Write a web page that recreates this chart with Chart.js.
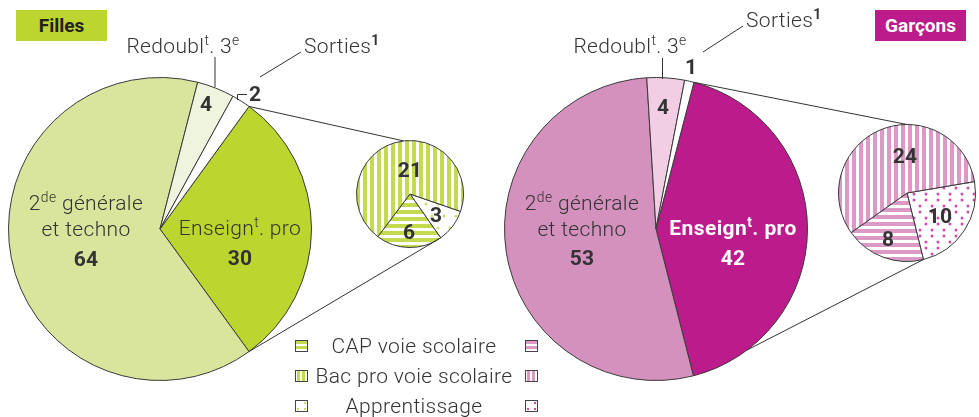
<!DOCTYPE html>
<html><head><meta charset="utf-8">
<script src="https://cdn.jsdelivr.net/npm/chart.js"></script>
<style>
html,body{margin:0;padding:0;background:#fff;}
#wrap{position:relative;width:979px;height:417px;overflow:hidden;font-family:Roboto,"Liberation Sans",sans-serif;color:#333;}
canvas.c{position:absolute;}
#ov{position:absolute;left:0;top:0;pointer-events:none;}
.t{position:absolute;transform:translate(-50%,-50%);white-space:nowrap;font-size:21px;font-weight:300;line-height:1;letter-spacing:0.35px;}
.tl{position:absolute;transform:translate(0,-50%);white-space:nowrap;font-size:21px;font-weight:300;line-height:1;letter-spacing:0.35px;}
.b{font-weight:700;letter-spacing:0.2px;}
sup{font-size:0.66em;vertical-align:0;position:relative;top:-0.55em;}
.box{position:absolute;height:31px;width:91px;font-size:19px;font-weight:700;line-height:31px;text-align:center;}
.ic{position:absolute;width:11px;height:10px;border:1px solid #444;}
</style></head><body>
<div id="wrap">
  <canvas class="c" id="fm" style="left:8px;top:77px"></canvas>
  <canvas class="c" id="fp" style="left:356px;top:140px"></canvas>
  <canvas class="c" id="gm" style="left:504px;top:77px"></canvas>
  <canvas class="c" id="gp" style="left:838px;top:124px"></canvas>
  <canvas id="ov" width="979" height="417"></canvas>
  <div id="labels"></div>
</div>
<script>
// ---- data ----
const mainCategories = ['Enseignt. pro', '2de générale et techno', 'Redoublt. 3e', 'Sorties'];
const fillesMain = [30, 64, 4, 2];
const garconsMain = [42, 53, 4, 1];
const proCategories = ['Apprentissage', 'CAP voie scolaire', 'Bac pro voie scolaire'];
const fillesPro = [3, 6, 21];
const garconsPro = [10, 8, 24];
const legendLabels = ['CAP voie scolaire', 'Bac pro voie scolaire', 'Apprentissage'];

// ---- styles ----
const GREEN = '#bdd52f', GREEN_L = '#d9e59c', GREEN_XL = '#eef4dd', GREEN_P = '#c5da4e';
const PINK = '#bb1b8b', PINK_L = '#d491bd', PINK_XL = '#f1cee3', PINK_P = '#db9ac6', PINK_D = '#d04ca6';
const EDGE = '#3a3a3a';

function pattern(kind, color) {
  const c = document.createElement('canvas');
  const x = c.getContext('2d');
  if (kind === 'v' || kind === 'h') {
    c.width = 7; c.height = 7;
    x.fillStyle = '#fff'; x.fillRect(0, 0, 7, 7);
    x.fillStyle = color;
    if (kind === 'v') x.fillRect(0, 0, 4, 7); else x.fillRect(0, 0, 7, 4);
  } else {
    c.width = 24; c.height = 24;
    x.fillStyle = '#fff'; x.fillRect(0, 0, 24, 24);
    x.fillStyle = color;
    [[4, 4], [16, 4], [10, 16], [22, 16]].forEach(p => { x.beginPath(); x.arc(p[0], p[1], 1.5, 0, Math.PI * 2); x.fill(); });
    if (kind === 'd2') {
      [[10, 10], [22, 10], [4, 22], [16, 22]].forEach(p => { x.beginPath(); x.arc(p[0], p[1], 1.5, 0, Math.PI * 2); x.fill(); });
    }
  }
  return c;
}
const ctxTmp = document.createElement('canvas').getContext('2d');
const pat = (k, col) => ctxTmp.createPattern(pattern(k, col), 'repeat');

function pie(id, size, data, labels, colors, rotation) {
  const cv = document.getElementById(id);
  cv.width = size; cv.height = size;
  cv.style.width = size + 'px'; cv.style.height = size + 'px';
  return new Chart(cv, {
    type: 'pie',
    data: { labels: labels, datasets: [{ data: data, backgroundColor: colors, borderColor: EDGE, borderWidth: 1, borderAlign: 'center' }] },
    options: {
      responsive: false, animation: false, rotation: rotation,
      events: [],
      layout: { padding: 0 },
      plugins: { legend: { display: false }, tooltip: { enabled: false } }
    }
  });
}

const fm = pie('fm', 304, fillesMain, mainCategories, [GREEN, GREEN_L, GREEN_XL, '#ffffff'], 36);
const gm = pie('gm', 304, garconsMain, mainCategories, [PINK, PINK_L, PINK_XL, '#ffffff'], 14.5);
const fp = pie('fp', 108, fillesPro, proCategories, [pat('d', '#c9dd6a'), pat('h', GREEN_P), pat('v', GREEN_P)], 109);
const gp = pie('gp', 138, garconsPro, proCategories, [pat('d2', PINK_D), pat('h', PINK_P), pat('v', PINK_P)], 80.4);

// ---- connectors ----
function off(chart) { const s = chart.canvas.style; return [parseFloat(s.left), parseFloat(s.top)]; }
function pt(chart, idx, which, angleOverride) {
  const a = chart.getDatasetMeta(0).data[idx];
  const o = off(chart);
  const ang = angleOverride !== undefined ? angleOverride : (which === 's' ? a.startAngle : a.endAngle);
  return [o[0] + a.x + a.outerRadius * Math.cos(ang), o[1] + a.y + a.outerRadius * Math.sin(ang)];
}
const ov = document.getElementById('ov').getContext('2d');
ov.strokeStyle = '#333'; ov.lineWidth = 1;
function line(p, q) { ov.beginPath(); ov.moveTo(p[0], p[1]); ov.lineTo(q[0], q[1]); ov.stroke(); }
const D = Math.PI / 180;
line(pt(fm, 0, 's'), pt(fp, 0, 's', -97 * D));
line(pt(fm, 0, 'e'), pt(fp, 1, 's'));
line(pt(gm, 0, 's'), pt(gp, 0, 's', -90 * D));
line(pt(gm, 0, 'e', 53 * D), pt(gp, 1, 's'));
// leader lines
line([215, 57], [215, 87]);
line([260, 77], [301, 52]);
ov.beginPath(); ov.moveTo(237.5, 100); ov.lineTo(237.5, 94.5); ov.lineTo(247, 94.5); ov.stroke();
line([662.5, 58], [662.5, 79]);
line([703, 52], [743, 26]);

// ---- text ----
const L = document.getElementById('labels');
function add(html, x, y, cls, style) {
  const d = document.createElement('div');
  d.className = cls || 't'; d.innerHTML = html;
  d.style.left = x + 'px'; d.style.top = y + 'px';
  if (style) d.style.cssText += style;
  L.appendChild(d);
}
add('Filles', 16, 10, 'box', 'background:' + GREEN + ';color:#222;');
add('Garçons', 875, 10, 'box', 'background:' + PINK + ';color:#fff;');

add('Redoubl<sup>t</sup>. 3<sup>e</sup>', 183, 46);
add('Sorties<sup class="b">1</sup>', 304, 46, 'tl');
add(String(fillesMain[3]), 255, 94, 't b');
add(String(fillesMain[2]), 206, 104, 't b');
add('2<sup>de</sup> générale', 86, 203);
add('et techno', 86, 229);
add(String(fillesMain[1]), 86, 259, 't b');
add('Enseign<sup>t</sup>. pro', 240, 228);
add(String(fillesMain[0]), 240, 258, 't b');
add(String(fillesPro[2]), 410, 170, 't b');
add(String(fillesPro[1]), 409, 232, 't b');
add(String(fillesPro[0]), 436, 215, 't b');

add('Redoubl<sup>t</sup>. 3<sup>e</sup>', 630, 46);
add('Sorties<sup class="b">1</sup>', 746, 20, 'tl');
add(String(garconsMain[3]), 691, 67, 't b');
add(String(garconsMain[2]), 663, 107, 't b');
add('2<sup>de</sup> générale', 582, 203);
add('et techno', 582, 229);
add(String(garconsMain[1]), 582, 258, 't b');
add('Enseign<sup>t</sup>. pro', 733, 228, 't b', 'color:#fff;letter-spacing:0.4px;');
add(String(garconsMain[0]), 733, 258, 't b', 'color:#fff;');
add(String(garconsPro[2]), 905, 156, 't b');
add(String(garconsPro[1]), 888, 239, 't b');
add(String(garconsPro[0]), 940, 216, 't b');

// legend
const rowsY = [346, 376, 406];
const kinds = ['h', 'v', 'd'];
legendLabels.forEach((lab, i) => {
  add(lab, 414, rowsY[i]);
  [[295, GREEN_P, '#c9dd6a'], [525, PINK_P, PINK_D]].forEach(s => {
    const d = document.createElement('div');
    d.className = 'ic';
    d.style.left = s[0] + 'px'; d.style.top = (rowsY[i] - 6) + 'px';
    const k = kinds[i];
    let bg;
    if (k === 'h') bg = 'repeating-linear-gradient(180deg,' + s[1] + ' 0 3px,#fff 3px 5px)';
    else if (k === 'v') bg = 'repeating-linear-gradient(90deg,#fff 0 1px,' + s[1] + ' 1px 4px,#fff 4px 5px)';
    else bg = 'radial-gradient(circle at 2px 8px,' + s[2] + ' 1.2px,transparent 1.6px),radial-gradient(circle at 9px 2px,' + s[2] + ' 1.2px,transparent 1.6px),radial-gradient(circle at 9px 8px,' + s[2] + ' 1.2px,transparent 1.6px),#fff';
    d.style.background = bg;
    L.appendChild(d);
  });
});
</script>
</body></html>
